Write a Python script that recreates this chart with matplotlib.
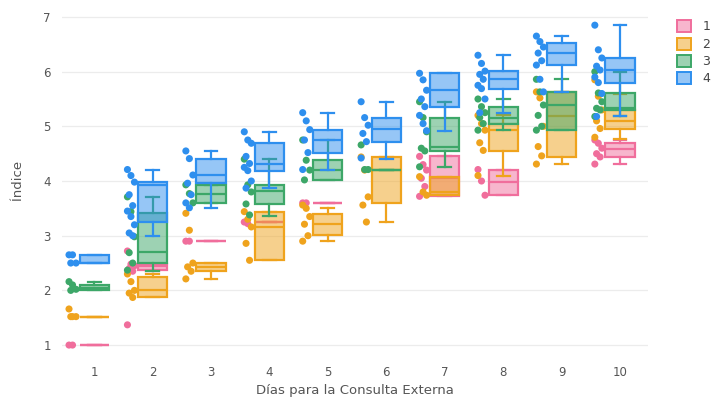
import numpy as np
import matplotlib.pyplot as plt
from matplotlib.patches import Patch
from matplotlib.colors import to_rgba

# dias de consulta externa (eje x)
dias = [1, 2, 3, 4, 5, 6, 7, 8, 9, 10]
grupos = ['1', '2', '3', '4']
colores = ['#F06E9C', '#EFA31D', '#3DA768', '#2E8FEE']

# resumen de cada caja: (bigote inf, q1, mediana, q3, bigote sup); None = sin datos
cajas_1 = [(1.0, 1.0, 1.0, 1.0, 1.0), (2.35, 2.38, 2.45, 2.48, 2.48), (2.9, 2.9, 2.9, 2.9, 2.9),
           (3.25, 3.25, 3.25, 3.25, 3.25), (3.6, 3.6, 3.6, 3.6, 3.6), None,
           (3.72, 3.72, 4.05, 4.45, 4.45), (3.74, 3.74, 3.99, 4.21, 4.21), None,
           (4.31, 4.44, 4.58, 4.69, 4.75)]
cajas_2 = [(1.52, 1.52, 1.52, 1.52, 1.52), (1.87, 1.87, 2.0, 2.24, 2.3), (2.21, 2.35, 2.43, 2.5, 2.5),
           (2.55, 2.55, 3.16, 3.44, 3.44), (2.9, 3.01, 3.21, 3.39, 3.5), (3.25, 3.59, 4.2, 4.44, 4.44),
           (3.74, 3.74, 3.8, 4.08, 4.08), (4.1, 4.55, 4.93, 5.05, 5.2), (4.31, 4.44, 5.19, 5.63, 5.63),
           (4.76, 4.96, 5.1, 5.3, 5.6)]
cajas_3 = [(2.0, 2.0, 2.05, 2.1, 2.16), (2.35, 2.5, 2.7, 3.41, 3.71), (3.6, 3.6, 3.77, 3.93, 3.93),
           (3.36, 3.58, 3.82, 3.93, 4.4), (4.02, 4.02, 4.2, 4.38, 4.75), (4.21, 4.21, 4.21, 4.21, 4.21),
           (4.26, 4.55, 4.63, 5.16, 5.45), (4.93, 5.05, 5.16, 5.36, 5.5), (4.93, 4.93, 5.39, 5.63, 5.86),
           (5.18, 5.3, 5.33, 5.61, 6.0)]
cajas_4 = [(2.5, 2.5, 2.5, 2.65, 2.65), (3.0, 3.25, 3.93, 3.98, 4.21), (3.51, 3.96, 4.11, 4.41, 4.55),
           (3.87, 4.19, 4.32, 4.69, 4.9), (4.21, 4.52, 4.75, 4.94, 5.25), (4.41, 4.72, 4.95, 5.16, 5.45),
           (4.92, 5.36, 5.66, 5.97, 5.97), (5.25, 5.69, 5.86, 6.01, 6.3), (5.63, 6.12, 6.34, 6.53, 6.65),
           (5.18, 5.8, 6.03, 6.25, 6.85)]

# observaciones individuales por dia
puntos_1 = [[1.0, 1.0], [2.72, 2.48, 2.45, 2.4, 2.35, 1.37], [2.9, 2.9], [3.25, 3.22], [3.6, 3.6], [],
            [4.45, 4.3, 4.2, 4.05, 3.9, 3.72], [4.21, 4.0, 3.74], [],
            [4.75, 4.69, 4.6, 4.5, 4.44, 4.31]]
puntos_2 = [[1.66, 1.52, 1.52, 1.52], [2.3, 2.16, 2.0, 1.95, 1.87], [3.41, 3.1, 2.5, 2.43, 2.35, 2.21],
            [3.44, 3.3, 3.16, 2.86, 2.55], [3.56, 3.5, 3.35, 3.21, 3.0, 2.9], [4.44, 4.2, 3.71, 3.56, 3.25],
            [4.08, 3.8, 3.74], [5.2, 5.05, 4.93, 4.7, 4.56, 4.1], [5.63, 5.52, 5.0, 4.63, 4.46, 4.31],
            [5.85, 5.55, 5.3, 5.1, 4.96, 4.8]]
puntos_3 = [[2.16, 2.1, 2.02, 2.0], [3.71, 3.44, 2.98, 2.69, 2.5, 2.37], [3.93, 3.77, 3.6],
            [4.4, 3.93, 3.8, 3.58, 3.38], [4.75, 4.38, 4.2, 4.02], [4.66, 4.21, 4.21],
            [5.45, 5.16, 4.9, 4.6, 4.55, 4.26], [5.5, 5.36, 5.25, 5.16, 5.05, 4.93],
            [5.86, 5.63, 5.39, 5.2, 5.0, 4.93], [6.0, 5.61, 5.45, 5.33, 5.3, 5.18]]
puntos_4 = [[2.65, 2.65, 2.5, 2.5], [4.21, 4.1, 3.98, 3.75, 3.55, 3.45, 3.35, 3.2, 3.05, 3.0],
            [4.55, 4.41, 4.11, 3.96, 3.75, 3.6, 3.51], [4.9, 4.75, 4.69, 4.45, 4.32, 4.25, 4.19, 4.0, 3.87],
            [5.25, 5.1, 4.94, 4.75, 4.52, 4.21], [5.45, 5.16, 5.02, 4.87, 4.72, 4.42],
            [5.97, 5.85, 5.66, 5.5, 5.36, 5.2, 5.05, 4.92], [6.3, 6.15, 6.01, 5.95, 5.86, 5.75, 5.69, 5.5, 5.25],
            [6.65, 6.55, 6.45, 6.34, 6.2, 6.12, 5.86, 5.63], [6.85, 6.4, 6.25, 6.1, 6.03, 5.9, 5.8, 5.6, 5.18]]

cajas = [cajas_1, cajas_2, cajas_3, cajas_4]
puntos = [puntos_1, puntos_2, puntos_3, puntos_4]

fig = plt.figure(figsize=(7.11, 3.97), dpi=100)
ax = fig.add_axes([62 / 711, 41 / 397, 586 / 711, 352.7 / 397])

ancho = 0.5
desplaz = np.array([-0.06, 0.0, 0.06, -0.03, 0.03])  # reparto horizontal de los puntos

for g, col in enumerate(colores):
    stats, pos = [], []
    for d, c in zip(dias, cajas[g]):
        if c is None:
            continue
        lo, q1, med, q3, hi = c
        stats.append(dict(whislo=lo, q1=q1, med=med, q3=q3, whishi=hi, fliers=[]))
        pos.append(d)
    ax.bxp(stats, positions=pos, widths=ancho, capwidths=0.22, patch_artist=True,
           showfliers=False, manage_ticks=False, zorder=2 + g,
           boxprops=dict(facecolor=to_rgba(col, 0.5), edgecolor=col, linewidth=1.6),
           medianprops=dict(color=col, linewidth=1.6),
           whiskerprops=dict(color=col, linewidth=1.6),
           capprops=dict(color=col, linewidth=1.6))
    for d, pts in zip(dias, puntos[g]):
        if not pts:
            continue
        xs = d - 0.37 + desplaz[np.arange(len(pts)) % len(desplaz)]
        ax.scatter(xs, pts, s=26, color=col, edgecolors='none', zorder=2.5 + g)

ax.set_xlim(0.45, 10.48)
ax.set_ylim(0.8, 7.25)
ax.set_xticks(dias)
ax.set_yticks(range(1, 8))
ax.tick_params(length=0, labelsize=8.5, labelcolor='#555555')
ax.tick_params(axis='x', pad=7)
ax.tick_params(axis='y', pad=8)
ax.grid(axis='y', color='#ececec', linewidth=0.9, zorder=0)
ax.set_axisbelow(True)
for s in ax.spines.values():
    s.set_visible(False)

ax.set_xlabel('Días para la Consulta Externa', fontsize=9.5, color='#555555', labelpad=4)
ax.set_ylabel('Índice', fontsize=9.5, color='#555555', labelpad=14)

manejadores = [Patch(facecolor=to_rgba(c, 0.5), edgecolor=c, linewidth=1.4) for c in colores]
fig.legend(manejadores, grupos, loc='upper left', bbox_to_anchor=(666 / 711, 1 - 9 / 397),
           frameon=False, fontsize=9, handlelength=1.1, handleheight=1.1,
           labelspacing=0.32, handletextpad=0.9, labelcolor='#444444')

fig.savefig('out.png', dpi=100)
